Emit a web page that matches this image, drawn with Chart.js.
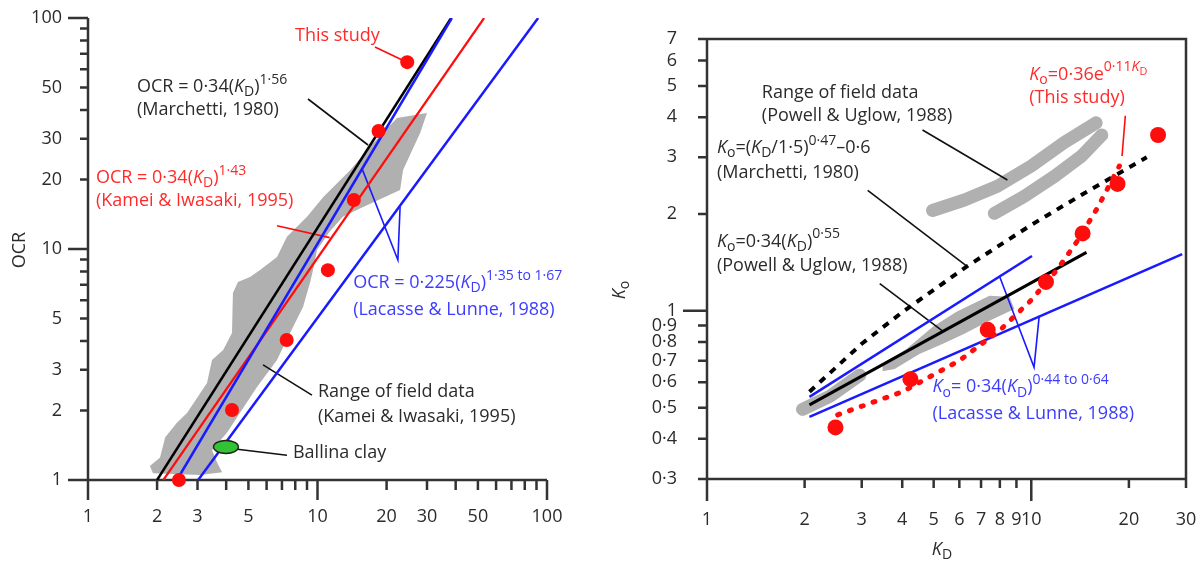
<!DOCTYPE html>
<html>
<head>
<meta charset="utf-8">
<script src="https://cdn.jsdelivr.net/npm/chart.js"></script>
<style>
  body { margin: 0; background: #fff; }
  #wrap { position: relative; width: 1203px; height: 565px; }
  #wrap canvas { position: absolute; top: 0; }
  #ocrChart { left: 0; }
  #koChart { left: 600px; }
</style>
</head>
<body>
<div id="wrap">
  <canvas id="ocrChart" width="600" height="565"></canvas>
  <canvas id="koChart" width="603" height="565"></canvas>
</div>
<script>
// ---- data: dilatometer tests (this study) ----
const studyKd = [2.49, 4.24, 7.34, 11.1, 14.4, 18.45, 24.6];
const studyOcr = [1.0, 2.01, 4.04, 8.1, 16.3, 32.4, 64.4];
const studyKo = [0.434, 0.613, 0.873, 1.23, 1.74, 2.48, 3.52];

// OCR correlations, [KD, OCR] end points
const marchettiOcr = [[2.0, 1], [38.2, 100]];
const kameiOcr = [[2.13, 1], [53.2, 100]];
const lacasseOcrHigh = [[2.44, 1], [38.5, 100]];
const lacasseOcrLow = [[3.02, 1], [91.5, 100]];
const ballinaClay = [[3.99, 1.39]];

// outline of field data band (Kamei & Iwasaki), [KD, OCR]
const kameiFieldRange = [
  [30.0, 38.8], [28.0, 31.8], [23.6, 22.0], [22.9, 18.0], [14.9, 14.8], [12.9, 13.8],
  [11.3, 11.9], [9.95, 9.9], [9.56, 8.1], [9.27, 7.13], [8.65, 5.61], [7.59, 4.33],
  [6.66, 3.31], [5.45, 2.53], [4.59, 1.95], [4.03, 1.60], [3.47, 1.35], [3.65, 1.19],
  [3.84, 1.08], [3.08, 1.05], [1.92, 1.07], [1.86, 1.15], [2.06, 1.25], [2.17, 1.53],
  [2.44, 1.77], [2.70, 1.95], [3.30, 2.63], [3.47, 3.31], [3.88, 3.65], [4.24, 4.33],
  [4.28, 6.45], [4.50, 7.20], [5.08, 7.57], [5.62, 8.11], [6.66, 9.23], [7.36, 11.3],
  [9.0, 13.8], [10.6, 16.8], [13.9, 22.0], [17.5, 28.8], [22.2, 36.9]
];

// Ko correlations, [KD, Ko]
const powellKo = [[2.07, 0.51], [14.8, 1.52]];
const lacasseKoHigh = [[2.07, 0.54], [10.05, 1.48]];
const lacasseKoLow = [[2.07, 0.468], [29.2, 1.5]];
const marchettiKo = [[2.07, 0.56], [3, 0.79], [4, 0.99], [6.3, 1.37], [10, 1.85], [15, 2.36], [22.7, 3.0]];
const studyKoFit = [[2.53, 0.475], [4, 0.56], [6, 0.70], [8, 0.87], [10, 1.08], [12, 1.34], [14, 1.67], [16, 2.09], [18.7, 2.82]];

// field data (Powell & Uglow)
const powellFieldUpper = [[4.96, 2.05], [6.22, 2.21], [7.86, 2.44], [10, 2.82], [12.6, 3.33], [15.85, 3.84]];
const powellFieldLower = [[7.69, 2.01], [9.51, 2.27], [11.8, 2.62], [14.3, 3.03], [16.5, 3.52]];
const powellFieldNear = [[1.97, 0.494], [2.39, 0.542], [2.96, 0.631]];
const powellFieldPatch = [
  [3.48, 0.683], [4.12, 0.761], [4.96, 0.891], [5.88, 0.993], [7.43, 1.114], [8.56, 1.106],
  [8.87, 1.014], [7.43, 0.931], [6.22, 0.848], [5.32, 0.789], [4.52, 0.734], [3.79, 0.659], [3.48, 0.649]
];

// axis ticks
const ocrTicks = [1, 2, 3, 4, 5, 6, 7, 8, 9, 10, 20, 30, 40, 50, 60, 70, 80, 90, 100];
const ocrTickLabels = [1, 2, 3, 5, 10, 20, 30, 50, 100];
const koXTicks = [1, 2, 3, 4, 5, 6, 7, 8, 9, 10, 20, 30];
const koYTicks = [0.3, 0.4, 0.5, 0.6, 0.7, 0.8, 0.9, 1, 2, 3, 4, 5, 6, 7];

const FONT = '"Open Sans", "Noto Sans", sans-serif';
const SIZE = 18;
const INK = '#2b2b2b';
const AXIS = '#333333';
const RED = '#ff0d0d';
const RED_TXT = '#ff2b2b';
const BLUE = '#1a1aff';
const BLUE_TXT = '#3c3cff';
const GREY = '#b0b0b0';

const fmt = v => String(v).replace('.', '\u00b7');

// text pieces: n normal, i italic, sub, sup, supi (italic sup), supsub
function richText(ctx, parts, x, y, color, size, align) {
  const pieces = parts.map(([t, k]) => {
    let s = size, dy = 0, st = '';
    if (k === 'i') st = 'italic ';
    if (k === 'sub') { s = size * 0.78; dy = size * 0.3; }
    if (k === 'sup') { s = size * 0.78; dy = -size * 0.4; }
    if (k === 'supi') { s = size * 0.78; dy = -size * 0.4; st = 'italic '; }
    if (k === 'supsub') { s = size * 0.6; dy = -size * 0.16; }
    ctx.font = st + s + 'px ' + FONT;
    return { t, font: ctx.font, dy, w: ctx.measureText(t).width };
  });
  let cx = x;
  if (align === 'center') cx -= pieces.reduce((a, p) => a + p.w, 0) / 2;
  ctx.fillStyle = color;
  ctx.textBaseline = 'middle';
  ctx.textAlign = 'left';
  pieces.forEach(p => {
    ctx.font = p.font;
    ctx.fillText(p.t, cx, y + p.dy);
    cx += p.w;
  });
}

const ocrNotes = [
  { at: [7.98, 83.6], color: RED_TXT, parts: [['This study', 'n']] },
  { at: [1.635, 50.3], color: INK, parts: [['OCR = 0\u00b734(', 'n'], ['K', 'i'], ['D', 'sub'], [')', 'n'], ['1\u00b756', 'sup']] },
  { at: [1.635, 40.0], color: INK, parts: [['(Marchetti, 1980)', 'n']] },
  { at: [1.083, 20.3], color: RED_TXT, parts: [['OCR = 0\u00b734(', 'n'], ['K', 'i'], ['D', 'sub'], [')', 'n'], ['1\u00b743', 'sup']] },
  { at: [1.083, 16.1], color: RED_TXT, parts: [['(Kamei & Iwasaki, 1995)', 'n']] },
  { at: [14.3, 7.13], color: BLUE_TXT, parts: [['OCR = 0\u00b7225(', 'n'], ['K', 'i'], ['D', 'sub'], [')', 'n'], ['1\u00b735 to 1\u00b767', 'sup']] },
  { at: [14.3, 5.44], color: BLUE_TXT, parts: [['(Lacasse & Lunne, 1988)', 'n']] },
  { at: [10.05, 2.40], color: INK, parts: [['Range of field data', 'n']] },
  { at: [10.05, 1.87], color: INK, parts: [['(Kamei & Iwasaki, 1995)', 'n']] },
  { at: [7.82, 1.31], color: INK, parts: [['Ballina clay', 'n']] }
];

const ocrLeaders = [
  { pts: [[17.8, 74.9], [23.4, 65.8]], color: RED },
  { pts: [[9.09, 44.6], [16.6, 28.2]], color: '#111' },
  { pts: [[6.66, 12.6], [11.3, 11.2]], color: RED },
  { pts: [[15.6, 22.4], [22.4, 8.96], [22.9, 15.2]], color: BLUE },
  { pts: [[5.79, 3.15], [9.46, 2.33]], color: '#111' },
  { pts: [[4.03, 1.375], [7.36, 1.28]], color: '#111' }
];

const koNotes = [
  { at: [1.476, 4.77], color: INK, parts: [['Range of field data', 'n']] },
  { at: [1.476, 4.04], color: INK, parts: [['(Powell & Uglow, 1988)', 'n']] },
  { at: [1.073, 3.21], color: INK, parts: [['K', 'i'], ['o', 'sub'], ['=(', 'n'], ['K', 'i'], ['D', 'sub'], ['/1\u00b75)', 'n'], ['0\u00b747', 'sup'], ['\u20130\u00b76', 'n']] },
  { at: [1.073, 2.68], color: INK, parts: [['(Marchetti, 1980)', 'n']] },
  { at: [1.073, 1.643], color: INK, parts: [['K', 'i'], ['o', 'sub'], ['=0\u00b734(', 'n'], ['K', 'i'], ['D', 'sub'], [')', 'n'], ['0\u00b755', 'sup']] },
  { at: [1.073, 1.382], color: INK, parts: [['(Powell & Uglow, 1988)', 'n']] },
  { at: [9.86, 5.43], color: RED_TXT, parts: [['K', 'i'], ['o', 'sub'], ['=0\u00b736e', 'n'], ['0\u00b711', 'sup'], ['K', 'supi'], ['D', 'supsub']] },
  { at: [9.86, 4.60], color: RED_TXT, parts: [['(This study)', 'n']] },
  { at: [4.96, 0.579], color: BLUE_TXT, parts: [['K', 'i'], ['o', 'sub'], ['= 0\u00b734(', 'n'], ['K', 'i'], ['D', 'sub'], [')', 'n'], ['0\u00b744 to 0\u00b764', 'sup']] },
  { at: [4.96, 0.477], color: BLUE_TXT, parts: [['(Lacasse & Lunne, 1988)', 'n']] }
];

const koLeaders = [
  { pts: [[4.62, 3.65], [8.44, 2.55]], color: '#111' },
  { pts: [[3.13, 2.37], [6.31, 1.38]], color: '#111' },
  { pts: [[3.41, 1.214], [5.32, 0.866]], color: '#111' },
  { pts: [[7.97, 1.286], [10.2, 0.668], [10.58, 0.965]], color: BLUE },
  { pts: [[19.5, 4.04], [19.05, 3.03]], color: RED }
];

function toPx(chart, [x, y]) {
  return [chart.scales.x.getPixelForValue(x), chart.scales.y.getPixelForValue(y)];
}

function drawAxes(chart, spec) {
  const { ctx, chartArea: a } = chart;
  const sx = chart.scales.x, sy = chart.scales.y;
  ctx.save();
  ctx.strokeStyle = AXIS;
  ctx.lineWidth = 2.5;
  ctx.beginPath();
  ctx.moveTo(a.left, a.top);
  ctx.lineTo(a.left, a.bottom);
  ctx.lineTo(a.right, a.bottom);
  if (spec.frame) {
    ctx.moveTo(a.left, a.top);
    ctx.lineTo(a.right, a.top);
    ctx.lineTo(a.right, a.bottom);
  }
  spec.xTicks.forEach(v => {
    const px = sx.getPixelForValue(v);
    const len = spec.xMajor.includes(v) ? spec.xMajorLen : spec.xMinorLen;
    ctx.moveTo(px, a.bottom);
    ctx.lineTo(px, a.bottom + len);
  });
  spec.yTicks.forEach(v => {
    const py = sy.getPixelForValue(v);
    const len = spec.yMajor.includes(v) ? spec.yMajorLen : spec.yMinorLen;
    ctx.moveTo(a.left, py);
    ctx.lineTo(a.left - len, py);
  });
  ctx.stroke();

  ctx.fillStyle = INK;
  ctx.font = SIZE + 'px ' + FONT;
  ctx.textBaseline = 'middle';
  ctx.textAlign = 'center';
  spec.xLabels.forEach(v => ctx.fillText(fmt(v), sx.getPixelForValue(v), a.bottom + spec.xLabelGap));
  ctx.textAlign = 'right';
  spec.yLabels.forEach(v => ctx.fillText(fmt(v), a.left - spec.yLabelGap, sy.getPixelForValue(v)));

  // axis titles
  spec.titles.forEach(t => {
    ctx.save();
    ctx.translate(t.x, t.y);
    if (t.rotate) ctx.rotate(-Math.PI / 2);
    richText(ctx, t.parts, 0, 0, INK, SIZE, 'center');
    ctx.restore();
  });
  ctx.restore();
}

function drawLeaders(chart, leaders) {
  const ctx = chart.ctx;
  ctx.save();
  ctx.lineWidth = 1.6;
  leaders.forEach(l => {
    ctx.strokeStyle = l.color;
    ctx.beginPath();
    l.pts.forEach((p, i) => {
      const [px, py] = toPx(chart, p);
      if (i === 0) ctx.moveTo(px, py); else ctx.lineTo(px, py);
    });
    ctx.stroke();
  });
  ctx.restore();
}

function drawNotes(chart, notes) {
  const ctx = chart.ctx;
  ctx.save();
  notes.forEach(n => {
    const [px, py] = toPx(chart, n.at);
    richText(ctx, n.parts, px, py, n.color, SIZE);
  });
  ctx.restore();
}

function fillShape(chart, pts) {
  const ctx = chart.ctx;
  ctx.beginPath();
  pts.forEach((p, i) => {
    const [px, py] = toPx(chart, p);
    if (i === 0) ctx.moveTo(px, py); else ctx.lineTo(px, py);
  });
  ctx.closePath();
  ctx.fill();
}

function strokeBand(chart, pts, width) {
  const ctx = chart.ctx;
  ctx.lineWidth = width;
  ctx.lineCap = 'round';
  ctx.lineJoin = 'round';
  ctx.beginPath();
  pts.forEach((p, i) => {
    const [px, py] = toPx(chart, p);
    if (i === 0) ctx.moveTo(px, py); else ctx.lineTo(px, py);
  });
  ctx.stroke();
}

function lineDs(pts, color, width, extra) {
  return Object.assign({
    data: pts.map(([x, y]) => ({ x, y })),
    showLine: true,
    borderColor: color,
    borderWidth: width,
    pointRadius: 0,
    fill: false,
    tension: 0
  }, extra || {});
}

// green ellipse marker for Ballina clay
const ballinaMark = document.createElement('canvas');
ballinaMark.width = 28;
ballinaMark.height = 16;
(function () {
  const c = ballinaMark.getContext('2d');
  c.beginPath();
  c.ellipse(14, 8, 12.5, 6.5, 0, 0, Math.PI * 2);
  c.fillStyle = '#33c233';
  c.fill();
  c.lineWidth = 1.3;
  c.strokeStyle = '#1e1e1e';
  c.stroke();
})();

function baseOptions(padding, xRange, yRange) {
  return {
    responsive: false,
    animation: false,
    layout: { padding },
    plugins: { legend: { display: false }, tooltip: { enabled: false } },
    events: [],
    scales: {
      x: { type: 'logarithmic', min: xRange[0], max: xRange[1], display: false },
      y: { type: 'logarithmic', min: yRange[0], max: yRange[1], display: false }
    }
  };
}

// ---- OCR chart ----
new Chart(document.getElementById('ocrChart'), {
  type: 'scatter',
  data: {
    datasets: [
      { data: studyKd.map((x, i) => ({ x, y: studyOcr[i] })), backgroundColor: RED, pointRadius: 7, borderWidth: 0, clip: false },
      { data: ballinaClay.map(([x, y]) => ({ x, y })), pointStyle: ballinaMark, pointRadius: 10 },
      lineDs(lacasseOcrHigh, BLUE, 2.5),
      lineDs(kameiOcr, RED, 2.2),
      lineDs(lacasseOcrLow, BLUE, 2.5),
      lineDs(marchettiOcr, '#000', 2.5)
    ]
  },
  options: baseOptions({ left: 88, top: 18, right: 53, bottom: 85 }, [1, 100], [1, 100]),
  plugins: [{
    id: 'ocrDecor',
    beforeDatasetsDraw(chart) {
      chart.ctx.save();
      chart.ctx.fillStyle = GREY;
      fillShape(chart, kameiFieldRange);
      chart.ctx.restore();
      drawAxes(chart, {
        xTicks: ocrTicks, xMajor: [1, 10, 100], xMajorLen: 20, xMinorLen: 10, xLabels: ocrTickLabels, xLabelGap: 37,
        yTicks: ocrTicks, yMajor: [1, 10, 100], yMajorLen: 20, yMinorLen: 8, yLabels: ocrTickLabels, yLabelGap: 26,
        titles: [{ x: 20, y: 250, rotate: true, parts: [['OCR', 'n']] }]
      });
      drawLeaders(chart, ocrLeaders);
    },
    afterDatasetsDraw(chart) {
      drawNotes(chart, ocrNotes);
    }
  }]
});

// ---- Ko chart ----
new Chart(document.getElementById('koChart'), {
  type: 'scatter',
  data: {
    datasets: [
      { data: studyKd.map((x, i) => ({ x, y: studyKo[i] })), backgroundColor: RED, pointRadius: 8, borderWidth: 0, clip: false },
      lineDs(studyKoFit, RED, 5, { borderDash: [2, 10.5], borderCapStyle: 'round' }),
      lineDs(marchettiKo, '#000', 4, { borderDash: [7, 7] }),
      lineDs(lacasseKoHigh, BLUE, 2.5),
      lineDs(lacasseKoLow, BLUE, 2.5),
      lineDs(powellKo, '#000', 3)
    ]
  },
  options: baseOptions({ left: 107, top: 39, right: 17, bottom: 86 }, [1, 30], [0.3, 7]),
  plugins: [{
    id: 'koDecor',
    beforeDatasetsDraw(chart) {
      const ctx = chart.ctx;
      ctx.save();
      ctx.fillStyle = GREY;
      ctx.strokeStyle = GREY;
      fillShape(chart, powellFieldPatch);
      strokeBand(chart, powellFieldNear, 13);
      strokeBand(chart, powellFieldUpper, 13);
      strokeBand(chart, powellFieldLower, 13);
      ctx.restore();
      drawAxes(chart, {
        frame: true,
        xTicks: koXTicks, xMajor: [1, 10], xMajorLen: 22, xMinorLen: 9, xLabels: koXTicks, xLabelGap: 41,
        yTicks: koYTicks, yMajor: [1], yMajorLen: 24, yMinorLen: 9, yLabels: koYTicks, yLabelGap: 30,
        titles: [
          { x: 20, y: 290, rotate: true, parts: [['K', 'i'], ['o', 'sub']] },
          { x: 342, y: 550, parts: [['K', 'i'], ['D', 'sub']] }
        ]
      });
      drawLeaders(chart, koLeaders);
    },
    afterDatasetsDraw(chart) {
      drawNotes(chart, koNotes);
    }
  }]
});
</script>
</body>
</html>
